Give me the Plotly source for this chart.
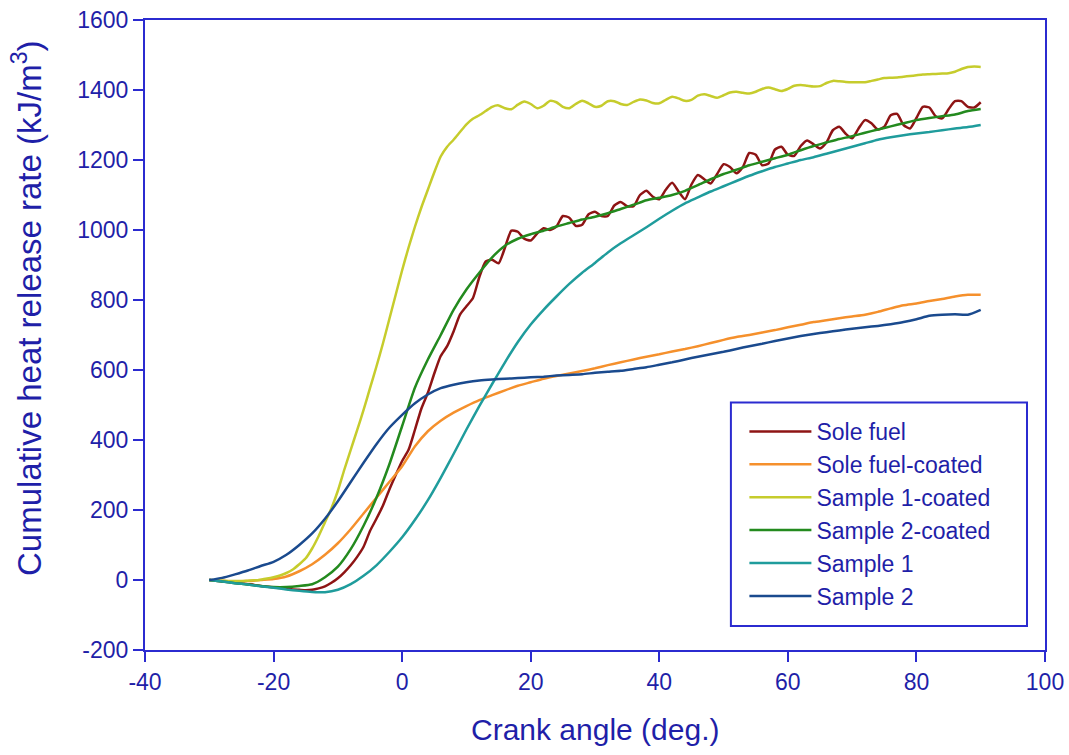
import plotly.graph_objects as go

# Crank angle grids (deg.)
ANGLE_FINE = list(range(-30, 91, 1))
ANGLE_COARSE = list(range(-30, 91, 2))

# Axis tick values and labels
X_TICKS = [-40, -20, 0, 20, 40, 60, 80, 100]
X_TICK_TEXT = ["-40", "-20", "0", "20", "40", "60", "80", "100"]
Y_TICKS = [-200, 0, 200, 400, 600, 800, 1000, 1200, 1400, 1600]
Y_TICK_TEXT = ["-200", "0", "200", "400", "600", "800", "1000", "1200", "1400", "1600"]

# Cumulative heat release rate (kJ/m3), 1 deg. resolution
sole_fuel = [
    0, -2, -4, -6, -8, -10, -12, -14, -17, -19,
    -21, -23, -25, -27, -28, -29, -28, -24, -18, -8,
    5, 22, 42, 66, 95, 140, 175, 212, 258, 300,
    340, 372, 430, 490, 535, 590, 640, 668, 710, 758,
    782, 805, 865, 910, 915, 905, 950, 998, 995, 975,
    970, 990, 1005, 1000, 1010, 1040, 1035, 1012, 1015, 1045,
    1052, 1040, 1040, 1070, 1080, 1068, 1068, 1100, 1112, 1095,
    1088, 1115, 1135, 1110, 1088, 1130, 1157, 1145, 1133, 1160,
    1188, 1180, 1162, 1180, 1220, 1215, 1185, 1190, 1230, 1238,
    1215, 1212, 1240, 1256, 1245, 1233, 1250, 1285, 1295, 1275,
    1262, 1290, 1314, 1305, 1287, 1295, 1328, 1332, 1300, 1290,
    1320, 1352, 1350, 1325, 1319, 1345, 1368, 1368, 1352, 1350,
    1365,
]

sample1_coated = [
    0, -1, -2, -3, -3, -3, -2, -1, 1, 4,
    8, 13, 20, 30, 45, 62, 90, 125, 165, 205,
    255, 315, 372, 428, 486, 548, 610, 675, 745, 815,
    885, 950, 1010, 1065, 1115, 1165, 1210, 1238, 1258, 1280,
    1302, 1318, 1328, 1340, 1352, 1356, 1348, 1345, 1358, 1367,
    1360, 1348, 1355, 1369, 1365, 1352, 1348, 1360, 1369, 1362,
    1352, 1355, 1368, 1368, 1360, 1357, 1366, 1373, 1370, 1363,
    1362, 1372, 1381, 1376, 1369, 1372, 1384, 1388, 1383, 1378,
    1385, 1393, 1395, 1392, 1390, 1395, 1403, 1407, 1402, 1397,
    1403, 1412, 1414, 1412, 1410, 1411, 1420, 1426, 1425, 1423,
    1422, 1422, 1422, 1426, 1430, 1434, 1435, 1436, 1438, 1440,
    1442, 1444, 1445, 1446, 1447, 1448, 1452, 1460, 1466, 1467,
    1466,
]

# Cumulative heat release rate (kJ/m3), 2 deg. resolution
sole_fuel_coated = [
    0, -2, -4, -3, 0, 3, 10, 25, 45, 72,
    105, 145, 190, 235, 280, 325, 382, 425, 455, 478,
    497, 514, 528, 542, 555, 565, 575, 583, 590, 597,
    605, 614, 622, 630, 638, 645, 653, 660, 668, 677,
    686, 694, 700, 707, 714, 722, 729, 737, 742, 748,
    753, 758, 766, 776, 785, 790, 797, 803, 810, 815,
    815,
]

sample2_coated = [
    0, -4, -9, -13, -17, -20, -20, -17, -12, 8,
    38, 88, 155, 235, 330, 440, 550, 630, 700, 772,
    830, 878, 922, 955, 975, 988, 998, 1010, 1020, 1030,
    1038, 1048, 1060, 1072, 1085, 1092, 1100, 1112, 1128, 1145,
    1160, 1172, 1185, 1195, 1205, 1215, 1228, 1240, 1250, 1260,
    1268, 1278, 1287, 1296, 1305, 1314, 1320, 1325, 1330, 1340,
    1346,
]

sample1 = [
    0, -4, -9, -13, -18, -22, -27, -31, -34, -35,
    -28, -12, 12, 42, 80, 122, 172, 228, 292, 360,
    430, 497, 560, 622, 680, 730, 772, 810, 846, 878,
    906, 936, 962, 985, 1008, 1032, 1055, 1076, 1093, 1110,
    1125, 1140, 1155, 1168, 1180, 1190, 1200, 1208, 1218, 1228,
    1238, 1248, 1258, 1265, 1271, 1276, 1280, 1285, 1290, 1294,
    1300,
]

sample2 = [
    0, 6, 16, 27, 40, 52, 72, 100, 133, 175,
    225, 280, 335, 388, 435, 472, 505, 530, 548, 558,
    565, 570, 573, 575, 577, 579, 581, 584, 586, 588,
    592, 595, 598, 603, 608, 615, 622, 630, 638, 645,
    652, 660, 668, 675, 683, 690, 697, 703, 708, 713,
    718, 722, 726, 731, 737, 745, 755, 758, 759, 758,
    772,
]

SERIES = [
    ("Sole fuel", ANGLE_FINE, sole_fuel, "#8e1414"),
    ("Sole fuel-coated", ANGLE_COARSE, sole_fuel_coated, "#f5902c"),
    ("Sample 1-coated", ANGLE_FINE, sample1_coated, "#c6cc2c"),
    ("Sample 2-coated", ANGLE_COARSE, sample2_coated, "#238a1e"),
    ("Sample 1", ANGLE_COARSE, sample1, "#1f9c9c"),
    ("Sample 2", ANGLE_COARSE, sample2, "#1a4a8e"),
]

AXIS_BLUE = "#2b2bd0"
TEXT_BLUE = "#1f1fa8"
FONT = "Liberation Sans, Arial, sans-serif"

fig = go.Figure()
for name, xs, ys, color in SERIES:
    fig.add_trace(go.Scatter(
        x=xs, y=ys, name=name, mode="lines",
        line=dict(color=color, width=2.5, shape="spline", smoothing=0.6),
    ))

axis_common = dict(
    showline=True, linecolor=AXIS_BLUE, linewidth=2, mirror=True,
    ticks="outside", ticklen=10, tickwidth=2, tickcolor=AXIS_BLUE,
    showgrid=False, zeroline=False, automargin=False,
    tickfont=dict(family=FONT, size=23, color=TEXT_BLUE),
)

fig.update_xaxes(range=[-40, 100], tickmode="array",
                 tickvals=X_TICKS, ticktext=X_TICK_TEXT, **axis_common)
fig.update_yaxes(range=[-200, 1600], tickmode="array",
                 tickvals=Y_TICKS, ticktext=Y_TICK_TEXT, **axis_common)

# Axis titles
fig.add_annotation(text="Crank angle (deg.)", xref="paper", yref="paper",
                   x=0.5, y=-0.1254, xanchor="center", yanchor="middle",
                   showarrow=False, font=dict(family=FONT, size=30, color=TEXT_BLUE))
fig.add_annotation(text="Cumulative heat release rate (kJ/m<sup>3</sup>)",
                   xref="paper", yref="paper", x=-0.131, y=0.543,
                   xanchor="center", yanchor="middle", textangle=-90,
                   showarrow=False, font=dict(family=FONT, size=33, color=TEXT_BLUE))

# Legend frame
fig.add_shape(type="rect", xref="paper", yref="paper",
              x0=0.651, x1=0.98, y0=0.038, y1=0.393,
              line=dict(color=AXIS_BLUE, width=2), fillcolor="rgba(0,0,0,0)")

fig.update_layout(
    width=1069, height=755,
    margin=dict(l=145, r=24, t=20, b=105),
    paper_bgcolor="white", plot_bgcolor="white",
    legend=dict(
        x=0.666, y=0.381, xanchor="left", yanchor="top",
        bgcolor="rgba(0,0,0,0)", borderwidth=0,
        font=dict(family=FONT, size=23, color=TEXT_BLUE),
        itemwidth=62, tracegroupgap=0,
    ),
)

fig.write_html("out.html")
